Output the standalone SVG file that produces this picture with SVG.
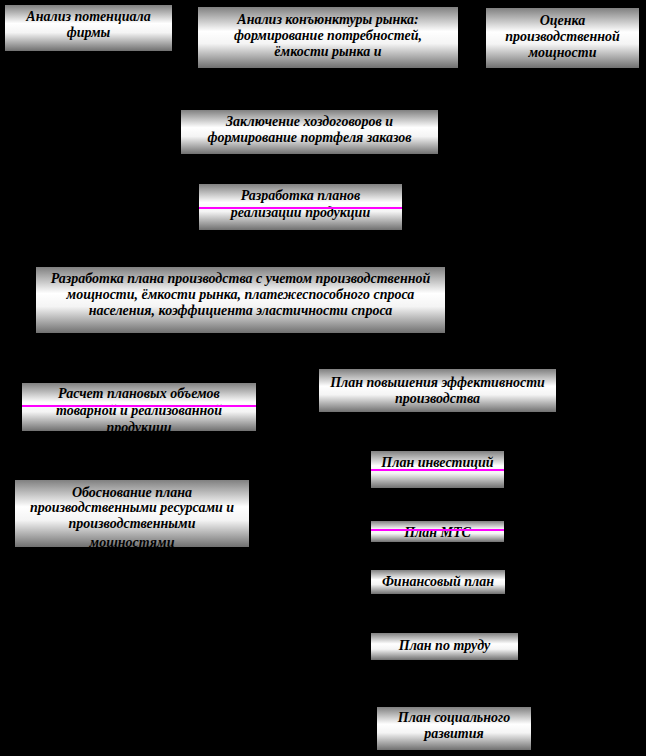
<svg xmlns="http://www.w3.org/2000/svg" width="646" height="756" viewBox="0 0 646 756">
<defs>
<linearGradient id="g" x1="0" y1="0" x2="0" y2="1">
<stop offset="0" stop-color="#808080"/>
<stop offset="0.4" stop-color="#ffffff"/>
<stop offset="0.6" stop-color="#f4f4f4"/>
<stop offset="1" stop-color="#707070"/>
</linearGradient>
<clipPath id="c7"><rect x="22" y="383" width="234" height="48"/></clipPath>
<clipPath id="c9"><rect x="15" y="480" width="234" height="67"/></clipPath>
</defs>
<style>
.box{fill:url(#g);}
.t{font-family:"Liberation Serif","Times New Roman",serif;font-size:14px;font-weight:bold;font-style:italic;fill:#000;text-anchor:middle;}
.m{stroke:#ff00ff;stroke-width:2;}
</style>
<rect x="0" y="0" width="646" height="756" fill="#000"/>
<g id="connectors"></g>
<g id="n1">
<rect class="box" x="5" y="5" width="167" height="46"/>
<text class="t" x="88.5" y="21">Анализ потенциала</text>
<text class="t" x="88.5" y="37">фирмы</text>
</g>
<g id="n2">
<rect class="box" x="198" y="7" width="260" height="61"/>
<text class="t" x="328" y="24">Анализ конъюнктуры рынка:</text>
<text class="t" x="328" y="40">формирование потребностей,</text>
<text class="t" x="328" y="56">ёмкости рынка и</text>
</g>
<g id="n3">
<rect class="box" x="486" y="8" width="153" height="60"/>
<text class="t" x="562.5" y="25">Оценка</text>
<text class="t" x="562.5" y="41">производственной</text>
<text class="t" x="562.5" y="57">мощности</text>
</g>
<g id="n4">
<rect class="box" x="181" y="110" width="257" height="44"/>
<text class="t" x="309.5" y="126">Заключение хоздоговоров и</text>
<text class="t" x="309.5" y="142">формирование портфеля заказов</text>
</g>
<g id="n5">
<rect class="box" x="199" y="184" width="203" height="46"/>
<text class="t" x="300.5" y="200">Разработка планов</text>
<text class="t" x="300.5" y="217">реализации продукции</text>
<line class="m" x1="199" y1="208" x2="402" y2="208"/>
</g>
<g id="n6">
<rect class="box" x="36" y="267" width="409" height="66"/>
<text class="t" x="240.5" y="283">Разработка плана производства с учетом производственной</text>
<text class="t" x="240.5" y="299">мощности, ёмкости рынка, платежеспособного спроса</text>
<text class="t" x="240.5" y="315">населения, коэффициента эластичности спроса</text>
</g>
<g id="n7">
<rect class="box" x="22" y="383" width="234" height="48"/>
<g clip-path="url(#c7)">
<text class="t" x="139" y="398">Расчет плановых объемов</text>
<text class="t" x="139" y="415">товарной и реализованной</text>
<text class="t" x="139" y="432">продукции</text>
</g>
<line class="m" x1="22" y1="406" x2="256" y2="406"/>
</g>
<g id="n8">
<rect class="box" x="319" y="369" width="237" height="43"/>
<text class="t" x="437.5" y="387">План повышения эффективности</text>
<text class="t" x="437.5" y="403">производства</text>
</g>
<g id="n9">
<rect class="box" x="15" y="480" width="234" height="67"/>
<g clip-path="url(#c9)">
<text class="t" x="132" y="497">Обоснование плана</text>
<text class="t" x="132" y="512">производственными ресурсами и</text>
<text class="t" x="132" y="528">производственными</text>
<text class="t" x="132" y="547">мощностями</text>
</g>
</g>
<g id="n10">
<rect class="box" x="371" y="451" width="133" height="37"/>
<text class="t" x="437.5" y="467">План инвестиций</text>
<line class="m" x1="371" y1="470" x2="504" y2="470"/>
</g>
<g id="n11">
<rect class="box" x="371" y="521" width="133" height="21"/>
<text class="t" x="437.5" y="537">План  МТС</text>
<line class="m" x1="371" y1="530" x2="504" y2="530"/>
</g>
<g id="n12">
<rect class="box" x="371" y="570" width="134" height="24"/>
<text class="t" x="438" y="586">Финансовый план</text>
</g>
<g id="n13">
<rect class="box" x="371" y="633" width="147" height="27"/>
<text class="t" x="444.5" y="650">План по труду</text>
</g>
<g id="n14">
<rect class="box" x="377" y="707" width="154" height="43"/>
<text class="t" x="454" y="722">План социального</text>
<text class="t" x="454" y="738">развития</text>
</g>
</svg>
